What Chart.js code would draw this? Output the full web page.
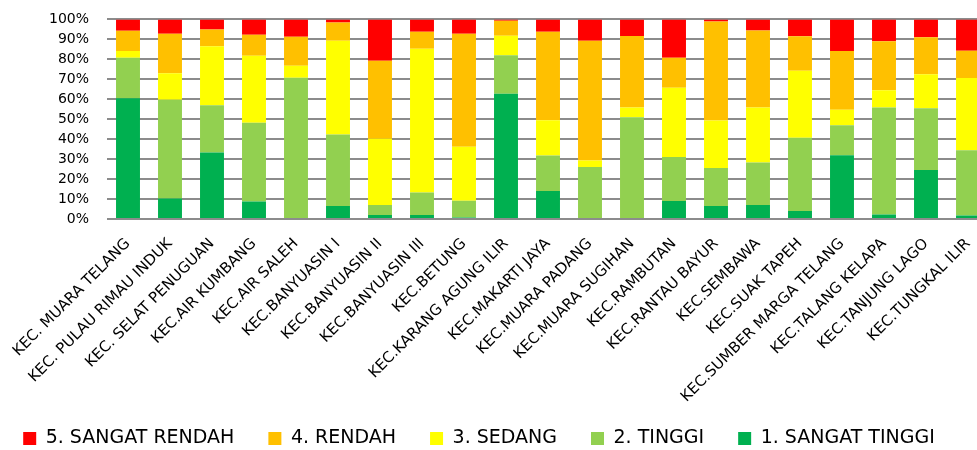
<!DOCTYPE html>
<html>
<head>
<meta charset="utf-8">
<script src="https://cdn.jsdelivr.net/npm/chart.js@4.4.1/dist/chart.umd.min.js"></script>
<style>
  html, body { margin: 0; padding: 0; background: #ffffff; overflow: hidden; width: 977px; height: 450px; }
  #wrap { position: absolute; left: -31px; top: -7px; width: 1020px; height: 465px; }
</style>
</head>
<body>
<div id="wrap"><canvas id="chart" width="1020" height="465"></canvas></div>
<script>
// Kecamatan (districts)
const categories = [
  "KEC. MUARA TELANG", "KEC. PULAU RIMAU INDUK", "KEC. SELAT PENUGUAN", "KEC.AIR KUMBANG",
  "KEC.AIR SALEH", "KEC.BANYUASIN I", "KEC.BANYUASIN II", "KEC.BANYUASIN III",
  "KEC.BETUNG", "KEC.KARANG AGUNG ILIR", "KEC.MAKARTI JAYA", "KEC.MUARA PADANG",
  "KEC.MUARA SUGIHAN", "KEC.RAMBUTAN", "KEC.RANTAU BAYUR", "KEC.SEMBAWA",
  "KEC.SUAK TAPEH", "KEC.SUMBER MARGA TELANG", "KEC.TALANG KELAPA", "KEC.TANJUNG LAGO",
  "KEC.TUNGKAL ILIR"
];

// Share of each class per district (%)
const sangatTinggi = [60.5, 10.3, 33.3, 8.8, 0, 6.5, 2.0, 2.0, 0.8, 62.8, 14.0, 0, 0, 9.0, 6.5, 7.0, 4.0, 32.0, 2.3, 24.5, 1.8];
const tinggi       = [20.3, 49.5, 23.7, 39.4, 70.8, 35.8, 5.0, 11.3, 8.4, 19.2, 17.8, 26.0, 51.0, 22.0, 19.0, 21.3, 36.7, 15.0, 53.5, 31.0, 32.7];
const sedang       = [3.4, 13.2, 29.5, 33.6, 6.0, 47.0, 33.2, 72.0, 27.0, 9.8, 17.7, 3.3, 4.8, 34.7, 23.8, 27.5, 33.6, 7.7, 8.7, 17.0, 36.2];
const rendah       = [10.1, 19.8, 8.5, 10.5, 14.5, 9.2, 39.1, 8.5, 56.6, 7.5, 44.3, 60.0, 35.9, 15.1, 49.7, 38.7, 17.2, 29.5, 24.5, 18.5, 13.6];
const sangatRendah = [5.7, 7.2, 5.0, 7.7, 8.7, 1.5, 20.7, 6.2, 7.2, 0.7, 6.2, 10.7, 8.3, 19.2, 1.0, 5.5, 8.5, 15.8, 11.0, 9.0, 15.7];

const seriesNames = ["1. SANGAT TINGGI", "2. TINGGI", "3. SEDANG", "4. RENDAH", "5. SANGAT RENDAH"];
const seriesColors = ["#00B050", "#92D050", "#FFFF00", "#FFC000", "#FF0000"];
const seriesValues = [sangatTinggi, tinggi, sedang, rendah, sangatRendah];

const FONT = "'DejaVu Sans', sans-serif";

const datasets = seriesValues.map((vals, i) => ({
  label: seriesNames[i],
  data: vals,
  backgroundColor: seriesColors[i],
  borderWidth: 0,
  categoryPercentage: 1.0,
  barPercentage: 0.57
}));

// Let the long rotated district names run past the axis box instead of being cut off
const unclipLabels = {
  id: "unclipLabels",
  beforeDraw(chart) {
    const xs = chart.scales.x;
    if (xs) xs._computeLabelArea = () => null;
  }
};

new Chart(document.getElementById("chart"), {
  type: "bar",
  data: { labels: categories, datasets },
  plugins: [unclipLabels],
  options: {
    responsive: false,
    animation: false,
    layout: { padding: { top: 11, right: 0, bottom: 0, left: 0 } },
    plugins: {
      tooltip: { enabled: false },
      legend: {
        position: "bottom",
        reverse: true,
        labels: {
          font: { family: FONT, size: 19 },
          color: "#000000",
          boxWidth: 13,
          boxHeight: 13,
          padding: 34
        }
      }
    },
    scales: {
      x: {
        stacked: true,
        grid: { display: false },
        border: { display: false },
        ticks: {
          font: { family: FONT, size: 15 },
          color: "#000000",
          minRotation: 45,
          maxRotation: 45,
          autoSkip: false,
          padding: 8
        },
        afterFit: (scale) => { scale.height = 176; }
      },
      y: {
        stacked: true,
        min: 0,
        max: 100,
        grid: { color: "#8c8c8c", lineWidth: 2, drawTicks: false },
        border: { display: false },
        ticks: {
          stepSize: 10,
          autoSkip: false,
          font: { family: FONT, size: 14 },
          color: "#000000",
          padding: 18,
          callback: (v) => v + "%"
        },
        afterFit: (scale) => { scale.width = 138; }
      }
    }
  }
});
</script>
</body>
</html>
